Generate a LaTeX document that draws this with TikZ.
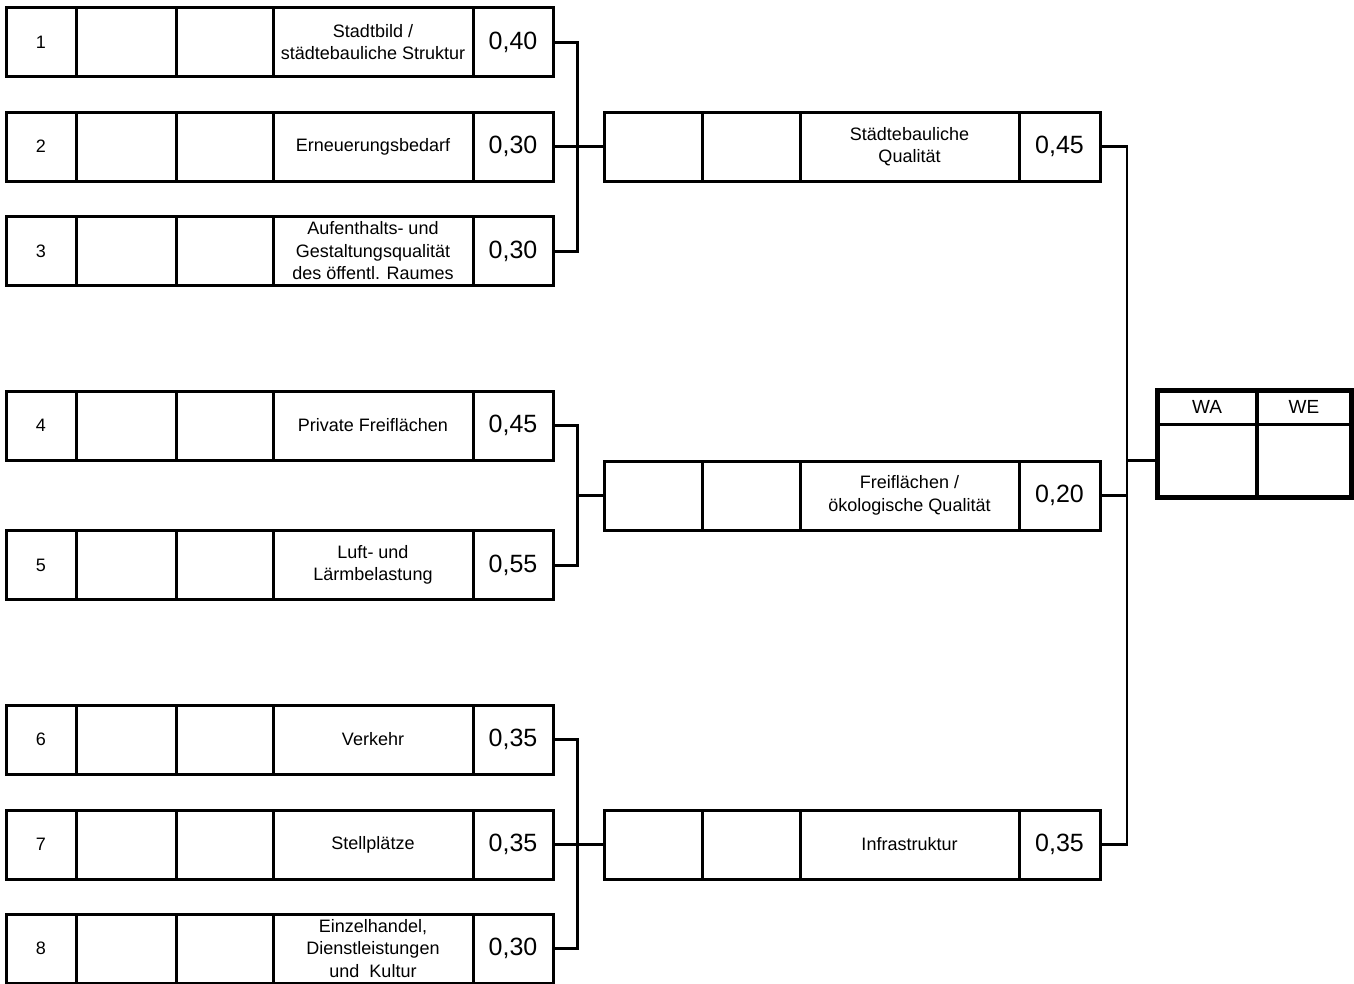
\documentclass[tikz,border=0pt]{standalone}
\usepackage{fontspec}
\setmainfont{Liberation Sans}
\usetikzlibrary{positioning}

\begin{document}
\begin{tikzpicture}[x=1pt,y=-1pt,
  cell/.style={draw,line width=3pt,minimum height=69pt,inner sep=0pt,outer sep=0pt,
    align=center,font=\fontsize{18}{22.5}\selectfont},
  wcell/.style={cell,font=\fontsize{25}{30}\selectfont},
  link/.style={line width=3pt},
  hcell/.style={draw,line width=3pt,inner sep=0pt,outer sep=0pt,font=\fontsize{19}{22}\selectfont}]
  % pixel grid of the sheet: 1354 x 983, y runs downwards
  \useasboundingbox (0,0) rectangle (1354,983);

  % --- criteria rows: number, two empty cells, criterion, weight
  \foreach \n/\yc/\txt/\w in {
      1/42/{Stadtbild /\\städtebauliche Struktur}/{0,40},
      2/146.5/{Erneuerungsbedarf}/{0,30},
      3/251/{Aufenthalts- und\\Gestaltungsqualität\\des öffentl. Raumes}/{0,30},
      4/425.5/{Private Freiflächen}/{0,45},
      5/565/{Luft- und\\Lärmbelastung}/{0,55},
      6/739.5/{Verkehr}/{0,35},
      7/844.5/{Stellplätze}/{0,35},
      8/948.5/{Einzelhandel,\\Dienstleistungen\\und\ \ Kultur}/{0,30}} {
    \node[cell,minimum width=70pt] (r\n-a) at (41,\yc) {\n};
    \node[cell,minimum width=100pt,right=0pt of r\n-a] (r\n-b) {};
    \node[cell,minimum width=97pt,right=0pt of r\n-b] (r\n-c) {};
    \node[cell,minimum width=200pt,right=0pt of r\n-c] (r\n-d) {\txt};
    \node[wcell,minimum width=80pt,right=0pt of r\n-d] (r\n-e) {\w};
  }

  % --- groups: two empty cells, group name, weight
  \foreach \g/\yc/\txt/\w in {
      1/146.5/{Städtebauliche\\Qualität}/{0,45},
      2/495.5/{Freiflächen /\\ökologische Qualität}/{0,20},
      3/844.5/{Infrastruktur}/{0,35}} {
    \node[cell,minimum width=98pt] (m\g-a) at (653,\yc) {};
    \node[cell,minimum width=98pt,right=0pt of m\g-a] (m\g-b) {};
    \node[cell,minimum width=219pt,right=0pt of m\g-b] (m\g-c) {\txt};
    \node[wcell,minimum width=81pt,right=0pt of m\g-c] (m\g-d) {\w};
  }

  % --- result box WA / WE
  \node[hcell,minimum width=100pt,minimum height=34pt] (wa-h) at (1207,407) {WA};
  \node[hcell,minimum width=94pt,minimum height=34pt,right=0pt of wa-h] (we-h) {WE};
  \node[hcell,minimum width=100pt,minimum height=73pt,below=0pt of wa-h] (wa-b) {};
  \node[hcell,minimum width=94pt,minimum height=73pt,below=0pt of we-h] (we-b) {};
  \draw[line width=5pt] (wa-h.north west) rectangle (we-b.south east);
  \draw[line width=4pt] (wa-h.north east) -- (wa-b.south east);

  % junctions of the brackets
  \coordinate (j1) at (577,146.5);
  \coordinate (j2) at (577,495.5);
  \coordinate (j3) at (577,844.5);
  \coordinate (k1) at (1127,146.5);
  \coordinate (k2) at (1127,495.5);
  \coordinate (k3) at (1127,844.5);
  \coordinate (kw) at (1127,460.5);

  % brackets rows -> groups
  \draw[link] (r1-e.east) -| (j1) |- (r3-e.east);
  \draw[link] (r2-e.east) -- (m1-a.west);
  \draw[link] (r4-e.east) -| (j2) |- (r5-e.east);
  \draw[link] (j2) -- (m2-a.west);
  \draw[link] (r6-e.east) -| (j3) |- (r8-e.east);
  \draw[link] (r7-e.east) -- (m3-a.west);

  % bracket groups -> result
  \draw[line width=2.5pt] (m1-d.east) -| (k1) -- (k3) |- (m3-d.east);
  \draw[line width=2.5pt] (m2-d.east) -- (k2);
  \draw[line width=2.5pt] (kw) -- (wa-b.west);
\end{tikzpicture}
\end{document}
